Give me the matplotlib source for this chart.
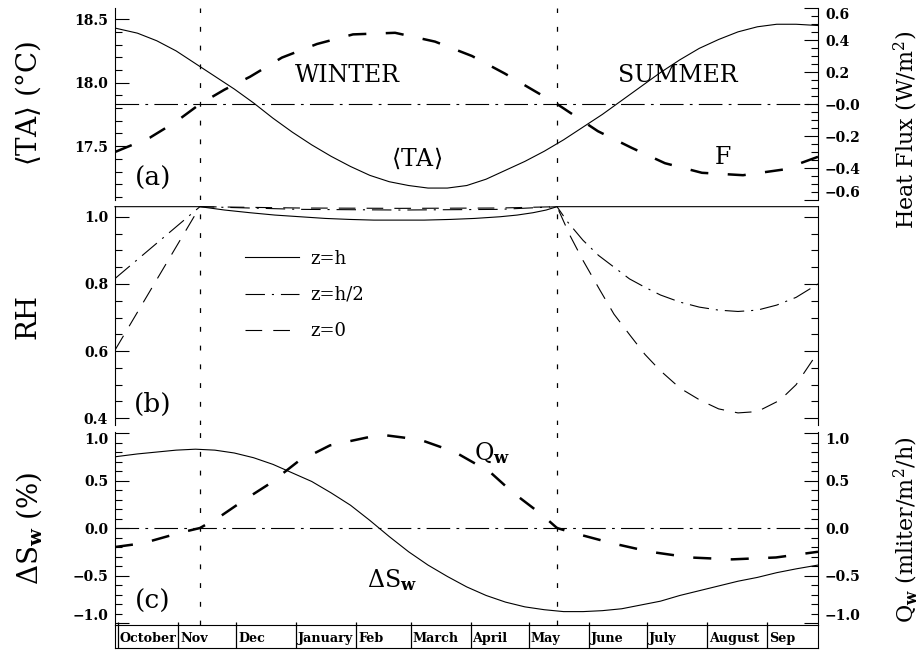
import numpy as np
import matplotlib.pyplot as plt
from matplotlib.ticker import MultipleLocator, FixedLocator

plt.rcParams['font.family'] = ['DejaVu Serif']
plt.rcParams['mathtext.fontset'] = 'dejavuserif'
plt.rcParams['lines.scale_dashes'] = False

# x axis: days counted from 1 October
month_names = ['October', 'Nov', 'Dec', 'January', 'Feb', 'March', 'April',
               'May', 'June', 'July', 'August', 'Sep']
month_start = [0, 31, 61, 92, 123, 151, 182, 212, 243, 273, 304, 335]
winter_start = 42.3
summer_start = 226.6

# (a) mean temperature and heat flux
ta_day = [-1.55, 10, 20, 30, 40, 50, 60, 70, 80, 90, 100, 110, 120, 130, 140, 150, 160,
          170, 180, 190, 200, 210, 220, 230, 240, 250, 260, 270, 280, 290, 300, 310,
          320, 330, 340, 350, 361.3]
ta = [18.43, 18.39, 18.33, 18.25, 18.15, 18.05, 17.95, 17.84, 17.72, 17.61, 17.51,
      17.42, 17.34, 17.27, 17.22, 17.19, 17.17, 17.17, 17.19, 17.24, 17.31, 17.38,
      17.46, 17.55, 17.65, 17.75, 17.86, 17.97, 18.08, 18.18, 18.27, 18.34, 18.40,
      18.44, 18.46, 18.46, 18.45]
flux_day = [-1.55, 16.5, 30, 42.3, 55, 68.1, 84.6, 102.7, 121.3, 143.0, 163.6, 182.7,
            199.7, 215.2, 226.6, 247.7, 265.3, 282.3, 301.4, 322.6, 343.2, 361.3]
flux = [-0.30, -0.21, -0.11, 0.0, 0.09, 0.17, 0.29, 0.375, 0.435, 0.445, 0.39, 0.30,
        0.19, 0.08, 0.0, -0.17, -0.275, -0.37, -0.43, -0.445, -0.41, -0.33]

# (b) relative humidity
rh_h_day = [-1.55, 42.3, 55, 68.1, 81, 94.0, 107, 119.7, 132, 145.5, 158, 171.4, 184,
            197.2, 206, 214.2, 221, 226.6, 361.3]
rh_h = [1.03, 1.03, 1.02, 1.012, 1.005, 1.0, 0.995, 0.992, 0.99, 0.99, 0.99, 0.992,
        0.995, 1.0, 1.005, 1.012, 1.02, 1.03, 1.03]
rh_half_day = [-1.55, 42.3, 94.0, 145.5, 197.2, 226.6, 232, 240, 248, 256, 264, 272,
               280, 290, 300, 310, 320, 330, 340, 350, 361.3]
rh_half = [0.816, 1.03, 1.022, 1.02, 1.022, 1.03, 0.985, 0.93, 0.885, 0.85, 0.815,
           0.79, 0.767, 0.746, 0.731, 0.722, 0.718, 0.722, 0.737, 0.760, 0.80]
rh_0_day = [-1.55, 42.3, 94.0, 145.5, 197.2, 226.6, 233.3, 240, 248.8, 256, 264.3,
            272, 279.7, 290, 300.4, 310, 320, 330, 341.7, 350, 361.3]
rh_0 = [0.603, 1.03, 1.026, 1.025, 1.026, 1.03, 0.944, 0.87, 0.781, 0.71, 0.647,
        0.59, 0.543, 0.49, 0.454, 0.428, 0.416, 0.42, 0.454, 0.50, 0.597]

# (c) salinity change and water flux
ds_day = [-1.55, 10, 20, 30, 40, 50, 60, 70, 80, 90, 100, 110, 120, 130, 140, 150, 160,
          170, 180, 190, 200, 210, 220, 230, 240, 250, 260, 270, 280, 290, 300, 310,
          320, 330, 340, 350, 361.3]
ds = [0.75, 0.78, 0.80, 0.82, 0.83, 0.82, 0.79, 0.74, 0.67, 0.58, 0.49, 0.37, 0.24,
      0.08, -0.09, -0.25, -0.39, -0.51, -0.62, -0.71, -0.78, -0.83, -0.86, -0.88,
      -0.88, -0.87, -0.85, -0.81, -0.77, -0.71, -0.66, -0.61, -0.56, -0.52, -0.47,
      -0.43, -0.39]
qw_day = [-1.55, 12.9, 32.0, 42.3, 52.6, 65.5, 78.5, 92.9, 109.4, 130.1, 136.8, 155.9,
          173.9, 192.0, 203.4, 218.8, 226.6, 234.8, 255.0, 274.6, 295.2, 316.9, 339.6, 361.3]
qw = [-0.20, -0.16, -0.05, 0.0, 0.12, 0.30, 0.47, 0.70, 0.87, 0.96, 0.98, 0.93,
      0.80, 0.59, 0.38, 0.14, 0.0, -0.05, -0.16, -0.25, -0.31, -0.33, -0.31, -0.25]

W, H = 919, 651
fig = plt.figure(figsize=(W / 100, H / 100), dpi=100)


def box(top, bottom):
    return [115 / W, (H - bottom) / H, 703 / W, (bottom - top) / H]


xlim = (-1.55, 361.3)
dashdot = (0, (17, 4.5, 2, 4.5))
vdots = (0, (3.5, 10))


def style_axis(ax, side):
    for s in ['top', 'bottom']:
        ax.spines[s].set_visible(False)
    ax.set_xlim(xlim)
    ax.tick_params(axis='x', which='both', bottom=False, labelbottom=False)
    ax.tick_params(axis='y', which='major', direction='in', length=10, width=0.8, pad=5)
    ax.tick_params(axis='y', which='minor', direction='in', length=5, width=0.8)
    if side == 'left':
        ax.tick_params(axis='y', which='both', left=True, right=False)
    for lab in ax.get_yticklabels():
        lab.set_fontweight('bold')
        lab.set_fontsize(10)


def edge_labels(ax):
    labs = ax.get_yticklabels()
    labs[0].set_va('bottom')
    labs[-1].set_va('top')


# ---------------- panel (a)
ax_a = fig.add_axes(box(8, 200))
ax_a.plot(ta_day, ta, color='black', lw=0.8)
ax_a.set_ylim(17.076, 18.588)
ax_a.yaxis.set_major_locator(FixedLocator([17.5, 18.0, 18.5]))
ax_a.yaxis.set_minor_locator(MultipleLocator(0.1))
ax_a.set_yticklabels(['17.5', '18.0', '18.5'])
style_axis(ax_a, 'left')
ax_a.spines['right'].set_visible(False)

ax_f = ax_a.twinx()
ax_f.plot(flux_day, flux, color='black', lw=1.8, linestyle=(0, (13, 14)))
ax_f.axhline(0, color='black', lw=0.8, linestyle=dashdot)
ax_f.set_ylim(-0.6, 0.6)
ax_f.yaxis.set_major_locator(FixedLocator([-0.6, -0.4, -0.2, 0.0, 0.2, 0.4, 0.6]))
ax_f.yaxis.set_minor_locator(MultipleLocator(0.05))
ax_f.set_yticklabels(['\u22120.6', '\u22120.4', '\u22120.2', '\u22120.0', '0.2', '0.4', '0.6'])
style_axis(ax_f, 'right')
ax_f.spines['left'].set_visible(False)
edge_labels(ax_f)
ax_a.axvline(winter_start, color='black', lw=0.9, linestyle=vdots)
ax_a.axvline(summer_start, color='black', lw=0.9, linestyle=vdots)

# ---------------- panel (b)
ax_b = fig.add_axes(box(206, 425))
ax_b.plot(rh_h_day, rh_h, color='black', lw=0.8, label='z=h', clip_on=False)
ax_b.plot(rh_half_day, rh_half, color='black', lw=0.8, linestyle=(0, (14, 5, 1.5, 5)),
          label='z=h/2')
ax_b.plot(rh_0_day, rh_0, color='black', lw=0.8, linestyle=(0, (12, 8)), label='z=0')
ax_b.set_ylim(0.38, 1.032)
ax_b.yaxis.set_major_locator(FixedLocator([0.4, 0.6, 0.8, 1.0]))
ax_b.yaxis.set_minor_locator(MultipleLocator(0.05))
ax_b.set_yticklabels(['0.4', '0.6', '0.8', '1.0'])
style_axis(ax_b, 'both')
ax_b.tick_params(axis='y', which='both', right=True)
ax_b.axvline(winter_start, color='black', lw=0.9, linestyle=vdots)
ax_b.axvline(summer_start, color='black', lw=0.9, linestyle=vdots)
ax_b.legend(loc='upper left', bbox_to_anchor=(0.185, 0.80), frameon=False, fontsize=13,
            handlelength=3.0, handletextpad=0.6, labelspacing=1.0, borderpad=0,
            borderaxespad=0)

# ---------------- panel (c)
ax_c = fig.add_axes(box(432, 625))
ax_c.plot(ds_day, ds, color='black', lw=0.8)
ax_c.set_ylim(-1.021, 1.011)
ax_c.yaxis.set_major_locator(FixedLocator([-1.0, -0.5, 0.0, 0.5, 1.0]))
ax_c.yaxis.set_minor_locator(MultipleLocator(0.1))
ax_c.set_yticklabels(['\u22121.0', '\u22120.5', '0.0', '0.5', '1.0'])
style_axis(ax_c, 'left')
ax_c.spines['right'].set_visible(False)
edge_labels(ax_c)

ax_q = ax_c.twinx()
ax_q.plot(qw_day, qw, color='black', lw=1.8, linestyle=(0, (13, 14)))
ax_q.axhline(0, color='black', lw=0.8, linestyle=dashdot)
ax_q.set_ylim(-1.021, 1.011)
ax_q.yaxis.set_major_locator(FixedLocator([-1.0, -0.5, 0.0, 0.5, 1.0]))
ax_q.yaxis.set_minor_locator(MultipleLocator(0.1))
ax_q.set_yticklabels(['\u22121.0', '\u22120.5', '0.0', '0.5', '1.0'])
style_axis(ax_q, 'right')
ax_q.spines['left'].set_visible(False)
edge_labels(ax_q)
ax_c.axvline(winter_start, color='black', lw=0.9, linestyle=vdots)
ax_c.axvline(summer_start, color='black', lw=0.9, linestyle=vdots)

# ---------------- month strip
ax_m = fig.add_axes(box(625, 648))
ax_m.set_xlim(xlim)
ax_m.set_ylim(0, 1)
ax_m.set_xticks([])
ax_m.set_yticks([])
ax_m.vlines(month_start, 0, 1.13, color='black', lw=0.9, clip_on=False)
for name, d in zip(month_names, month_start):
    ax_m.text(d + 1.0, 0.42, name, ha='left', va='center', fontsize=9.2, fontweight='bold')


# ---------------- annotations
def ftext(x, y, s, **kw):
    fig.text(x / W, 1 - y / H, s, ha='center', va='center', **kw)


ftext(347, 75, 'WINTER', fontsize=17)
ftext(678, 75, 'SUMMER', fontsize=17)
ftext(417, 158, r'$\langle$TA$\rangle$', fontsize=17)
ftext(723, 157, 'F', fontsize=17)
ftext(492, 453, r'Q$_\mathbf{w}$', fontsize=17)
ftext(392, 580, r'$\Delta$S$_\mathbf{w}$', fontsize=17)
ftext(153, 178, '(a)', fontsize=19)
ftext(153, 404, '(b)', fontsize=19)
ftext(153, 601, '(c)', fontsize=19)

ftext(28, 103, r'$\langle$TA$\rangle$ (°C)', fontsize=20, rotation=90)
ftext(28, 316, 'RH', fontsize=20, rotation=90)
ftext(29, 528, r'$\Delta$S$_\mathbf{w}$ (%)', fontsize=20, rotation=90)
ftext(906, 130, r'Heat Flux (W/m$^2$)', fontsize=16, rotation=90)
ftext(906, 530, r'Q$_\mathbf{w}$ (mliter/m$^2$/h)', fontsize=16, rotation=90)

fig.savefig('out.png', dpi=100)
